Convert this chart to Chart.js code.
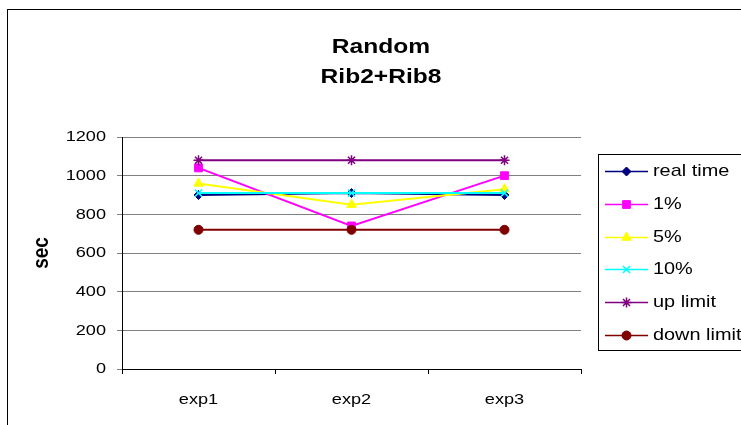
<!DOCTYPE html>
<html>
<head>
<meta charset="utf-8">
<script src="https://cdn.jsdelivr.net/npm/chart.js@4"></script>
<style>
  html, body { margin: 0; padding: 0; background: #ffffff; overflow: hidden; }
  #wrap { position: relative; width: 741px; height: 425px; }
</style>
</head>
<body>
<div id="wrap"><canvas id="c" width="741" height="425"></canvas></div>
<script>
const categories = ['exp1', 'exp2', 'exp3'];
const seriesNames = ['real time', '1%', '5%', '10%', 'up limit', 'down limit'];
const realTime = [900, 910, 900];
const pct1 = [1040, 740, 1000];
const pct5 = [960, 850, 930];
const pct10 = [910, 910, 910];
const upLimit = [1080, 1080, 1080];
const downLimit = [720, 720, 720];
const yTicks = [0, 200, 400, 600, 800, 1000, 1200];
const titleLines = ['Random', 'Rib2+Rib8'];
const yTitle = 'sec';

const seriesValues = [realTime, pct1, pct5, pct10, upLimit, downLimit];
const colors = ['#000080', '#FF00FF', '#FFFF00', '#00FFFF', '#800080', '#800000'];
const pointStyles = ['rectRot', 'rect', 'triangle', 'crossRot', 'star', 'circle'];
const pointRadii = [4.5, 5.5, 5.5, 5, 5, 4.5];

const FONT = "'Liberation Sans', Arial, sans-serif";
const STRETCH = 1.17;

const datasets = seriesNames.map((name, i) => ({
  label: name,
  data: seriesValues[i],
  borderColor: colors[i],
  backgroundColor: colors[i],
  pointBackgroundColor: colors[i],
  pointBorderColor: colors[i],
  pointStyle: pointStyles[i],
  pointRadius: pointRadii[i],
  pointBorderWidth: (pointStyles[i] === 'crossRot' || pointStyles[i] === 'star') ? 1.5 : 1,
  borderWidth: 2,
  tension: 0,
  fill: false,
  order: seriesNames.length - i
}));

// Horizontally widened text, as in the reference (stretch in device space around the anchor)
function patchText(ctx) {
  if (ctx.__stretched) return;
  ctx.__stretched = true;
  const orig = ctx.fillText.bind(ctx);
  ctx.fillText = function (text, x, y, maxWidth) {
    const m = ctx.getTransform();
    const p = m.transformPoint(new DOMPoint(x, y));
    ctx.save();
    ctx.setTransform(new DOMMatrix().translate(p.x, p.y).scale(STRETCH, 1).translate(-p.x, -p.y).multiply(m));
    if (maxWidth !== undefined) orig(text, x, y, maxWidth); else orig(text, x, y);
    ctx.restore();
  };
}

const decor = {
  id: 'decor',
  beforeDraw(chart) {
    const ctx = chart.ctx;
    patchText(ctx);
    ctx.save();
    ctx.fillStyle = '#ffffff';
    ctx.fillRect(0, 0, chart.width, chart.height);
    ctx.strokeStyle = '#000000';
    ctx.lineWidth = 1;
    ctx.strokeRect(7.5, 9.5, 900, 600);
    // title
    ctx.fillStyle = '#000000';
    ctx.font = "bold 21px " + FONT;
    ctx.textAlign = 'center';
    ctx.textBaseline = 'alphabetic';
    ctx.fillText(titleLines[0], 381, 53);
    ctx.fillText(titleLines[1], 381, 83);
    ctx.restore();
  },
  afterDraw(chart) {
    const ctx = chart.ctx;
    ctx.save();
    // legend box
    ctx.strokeStyle = '#000000';
    ctx.lineWidth = 1;
    ctx.fillStyle = '#ffffff';
    ctx.fillRect(598.5, 154.5, 300, 196);
    ctx.strokeRect(598.5, 154.5, 300, 196);
    const dsets = chart.data.datasets;
    dsets.forEach((ds, i) => {
      const y = Math.round(171 + i * 32.8) + 0.5;
      ctx.strokeStyle = ds.borderColor;
      ctx.lineWidth = 1.5;
      ctx.beginPath();
      ctx.moveTo(605, y);
      ctx.lineTo(648, y);
      ctx.stroke();
      ctx.fillStyle = ds.pointBackgroundColor;
      ctx.strokeStyle = ds.pointBorderColor;
      ctx.lineWidth = ds.pointBorderWidth;
      Chart.helpers.drawPoint(ctx, { pointStyle: ds.pointStyle, radius: ds.pointRadius, borderWidth: ds.pointBorderWidth }, 626.5, y);
      ctx.fillStyle = '#000000';
      ctx.font = "17px " + FONT;
      ctx.textAlign = 'left';
      ctx.textBaseline = 'middle';
      ctx.fillText(ds.label, 653, y);
    });
    ctx.restore();
  }
};

new Chart(document.getElementById('c'), {
  type: 'line',
  data: { labels: categories, datasets: datasets },
  plugins: [decor],
  options: {
    responsive: false,
    animation: false,
    devicePixelRatio: 1,
    layout: { padding: { left: 0, top: 137, right: 160, bottom: 0 } },
    plugins: {
      legend: { display: false },
      title: { display: false },
      tooltip: { enabled: false }
    },
    scales: {
      x: {
        type: 'category',
        offset: true,
        grid: {
          offset: true,
          drawOnChartArea: false,
          drawTicks: true,
          tickLength: 5,
          color: '#000000'
        },
        border: { display: true, color: '#000000', width: 1 },
        ticks: {
          color: '#000000',
          font: { family: FONT, size: 15.5 },
          padding: 16,
          maxRotation: 0,
          autoSkip: false
        },
        afterFit(scale) { scale.height = 56; }
      },
      y: {
        min: 0,
        max: 1200,
        afterBuildTicks(scale) { scale.ticks = yTicks.map(v => ({ value: v })); },
        grid: {
          color: '#808080',
          drawTicks: true,
          tickLength: 5,
          lineWidth: 1
        },
        border: { display: true, color: '#000000', width: 1 },
        ticks: {
          color: '#000000',
          font: { family: FONT, size: 15.5 },
          padding: 11,
          callback: (v) => String(v)
        },
        title: {
          display: true,
          text: yTitle,
          color: '#000000',
          font: { family: FONT, size: 19, weight: 'bold' },
          padding: { top: 30, bottom: 0 }
        },
        afterFit(scale) { scale.width = 122; }
      }
    }
  }
});
</script>
</body>
</html>
